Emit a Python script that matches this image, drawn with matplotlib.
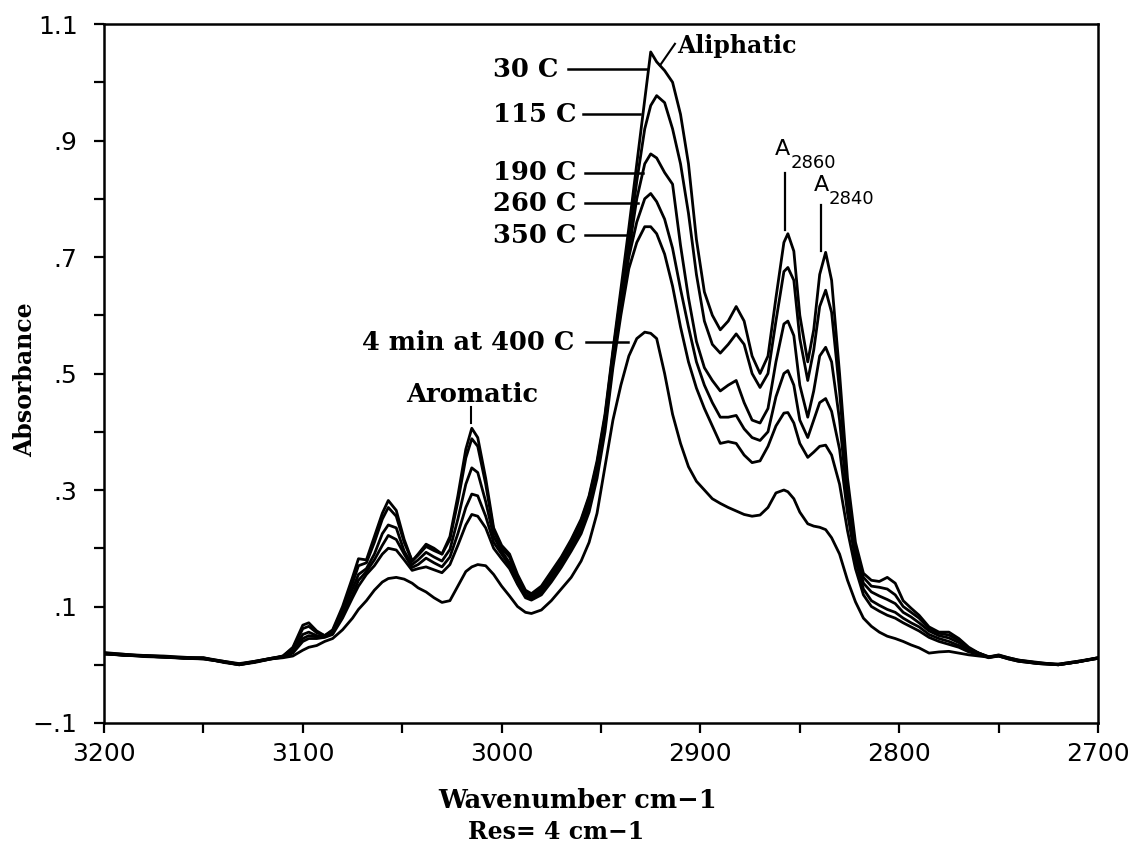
import matplotlib
matplotlib.use("Agg")
import matplotlib.pyplot as plt
from matplotlib.ticker import FixedLocator

# ---------------- data ----------------
wavenumber = [3200, 3190, 3180, 3170, 3160, 3150, 3140, 3132, 3124, 3116,
              3110, 3105, 3100, 3097, 3093, 3089, 3085, 3080, 3075, 3072,
              3068, 3064, 3060, 3057, 3053, 3049, 3045, 3042, 3038, 3034,
              3030, 3026, 3022, 3018, 3015, 3012, 3008, 3004, 3000, 2996,
              2992, 2988, 2985, 2980, 2975, 2970, 2965, 2960, 2956, 2952,
              2948, 2944, 2940, 2936, 2932, 2928, 2925, 2922, 2918, 2914,
              2910, 2906, 2902, 2898, 2894, 2890, 2886, 2882, 2878, 2874,
              2870, 2866, 2862, 2858, 2856, 2853, 2850, 2846, 2843, 2840,
              2837, 2834, 2830, 2826, 2822, 2818, 2814, 2810, 2806, 2802,
              2798, 2794, 2790, 2785, 2780, 2775, 2770, 2765, 2760, 2755,
              2750, 2745, 2740, 2730, 2720, 2710, 2700]

abs_30C = [0.021, 0.018, 0.016, 0.014, 0.012, 0.012, 0.006, 0.001, 0.006, 0.011,
           0.015, 0.030, 0.068, 0.072, 0.058, 0.050, 0.060, 0.100, 0.150, 0.182,
           0.180, 0.220, 0.260, 0.282, 0.265, 0.215, 0.178, 0.190, 0.207, 0.200,
           0.190, 0.220, 0.290, 0.370, 0.406, 0.390, 0.320, 0.235, 0.205, 0.190,
           0.155, 0.128, 0.122, 0.135, 0.160, 0.185, 0.215, 0.250, 0.290, 0.350,
           0.430, 0.540, 0.645, 0.750, 0.860, 0.970, 1.052, 1.035, 1.020, 1.000,
           0.945, 0.860, 0.730, 0.640, 0.600, 0.575, 0.590, 0.615, 0.590, 0.530,
           0.500, 0.530, 0.630, 0.725, 0.740, 0.710, 0.600, 0.520, 0.575, 0.670,
           0.708, 0.660, 0.500, 0.320, 0.210, 0.157, 0.145, 0.143, 0.150, 0.140,
           0.110, 0.097, 0.085, 0.065, 0.056, 0.056, 0.045, 0.030, 0.020, 0.013,
           0.017, 0.012, 0.008, 0.003, 0.000, 0.005, 0.012]

abs_115C = [0.019, 0.017, 0.015, 0.013, 0.011, 0.010, 0.005, 0.000, 0.005, 0.010,
            0.015, 0.028, 0.062, 0.066, 0.055, 0.050, 0.058, 0.095, 0.140, 0.170,
            0.175, 0.210, 0.250, 0.270, 0.255, 0.210, 0.178, 0.188, 0.203, 0.196,
            0.190, 0.215, 0.280, 0.355, 0.388, 0.375, 0.310, 0.230, 0.200, 0.185,
            0.150, 0.125, 0.120, 0.132, 0.157, 0.182, 0.212, 0.247, 0.287, 0.345,
            0.425, 0.535, 0.635, 0.725, 0.830, 0.920, 0.960, 0.977, 0.965, 0.920,
            0.860, 0.775, 0.670, 0.590, 0.550, 0.535, 0.550, 0.568, 0.550, 0.500,
            0.476, 0.500, 0.590, 0.675, 0.682, 0.660, 0.560, 0.488, 0.540, 0.615,
            0.643, 0.605, 0.470, 0.300, 0.200, 0.150, 0.135, 0.133, 0.130, 0.120,
            0.100, 0.090, 0.080, 0.062, 0.054, 0.051, 0.042, 0.028, 0.020, 0.013,
            0.016, 0.011, 0.007, 0.002, 0.001, 0.006, 0.011]

abs_190C = [0.020, 0.016, 0.016, 0.015, 0.013, 0.011, 0.006, 0.002, 0.006, 0.011,
            0.014, 0.025, 0.052, 0.056, 0.050, 0.049, 0.056, 0.090, 0.130, 0.155,
            0.165, 0.190, 0.225, 0.240, 0.235, 0.195, 0.172, 0.180, 0.193, 0.185,
            0.178, 0.198, 0.250, 0.310, 0.338, 0.330, 0.280, 0.220, 0.195, 0.175,
            0.145, 0.120, 0.117, 0.128, 0.152, 0.177, 0.207, 0.240, 0.280, 0.340,
            0.420, 0.530, 0.625, 0.710, 0.800, 0.860, 0.877, 0.870, 0.845, 0.825,
            0.720, 0.630, 0.555, 0.510, 0.488, 0.470, 0.480, 0.488, 0.450, 0.420,
            0.415, 0.440, 0.520, 0.585, 0.590, 0.565, 0.480, 0.425, 0.470, 0.530,
            0.545, 0.520, 0.420, 0.280, 0.190, 0.140, 0.125, 0.118, 0.112, 0.105,
            0.090, 0.082, 0.072, 0.058, 0.050, 0.046, 0.038, 0.026, 0.020, 0.014,
            0.016, 0.012, 0.008, 0.004, 0.000, 0.005, 0.012]

abs_260C = [0.018, 0.017, 0.014, 0.013, 0.012, 0.012, 0.004, 0.000, 0.004, 0.010,
            0.013, 0.022, 0.045, 0.050, 0.048, 0.048, 0.054, 0.085, 0.120, 0.145,
            0.160, 0.180, 0.205, 0.222, 0.215, 0.190, 0.167, 0.172, 0.183, 0.175,
            0.168, 0.185, 0.225, 0.270, 0.293, 0.290, 0.255, 0.210, 0.190, 0.170,
            0.140, 0.118, 0.113, 0.124, 0.147, 0.172, 0.200, 0.232, 0.270, 0.330,
            0.410, 0.520, 0.615, 0.700, 0.760, 0.800, 0.809, 0.795, 0.765, 0.715,
            0.645, 0.580, 0.520, 0.480, 0.450, 0.425, 0.425, 0.428, 0.405, 0.390,
            0.385, 0.400, 0.460, 0.500, 0.505, 0.480, 0.420, 0.390, 0.420, 0.450,
            0.457, 0.435, 0.370, 0.260, 0.180, 0.130, 0.110, 0.102, 0.095, 0.090,
            0.080, 0.072, 0.065, 0.052, 0.045, 0.040, 0.033, 0.024, 0.018, 0.013,
            0.015, 0.011, 0.007, 0.003, 0.001, 0.006, 0.012]

abs_350C = [0.020, 0.018, 0.015, 0.014, 0.011, 0.011, 0.005, 0.001, 0.005, 0.011,
            0.013, 0.020, 0.040, 0.045, 0.045, 0.047, 0.052, 0.080, 0.115, 0.135,
            0.155, 0.170, 0.190, 0.200, 0.197, 0.180, 0.162, 0.165, 0.168, 0.163,
            0.158, 0.172, 0.205, 0.240, 0.258, 0.255, 0.235, 0.200, 0.182, 0.165,
            0.138, 0.115, 0.111, 0.120, 0.142, 0.167, 0.195, 0.225, 0.262, 0.320,
            0.400, 0.510, 0.600, 0.680, 0.725, 0.752, 0.752, 0.740, 0.705, 0.650,
            0.580, 0.520, 0.475, 0.440, 0.410, 0.380, 0.383, 0.380, 0.360, 0.347,
            0.350, 0.375, 0.410, 0.432, 0.433, 0.415, 0.380, 0.356, 0.365, 0.375,
            0.377, 0.360, 0.310, 0.230, 0.165, 0.120, 0.100, 0.092, 0.085, 0.080,
            0.072, 0.065, 0.058, 0.047, 0.040, 0.035, 0.030, 0.022, 0.018, 0.012,
            0.015, 0.010, 0.006, 0.002, 0.000, 0.005, 0.011]

abs_400C = [0.019, 0.016, 0.015, 0.013, 0.012, 0.010, 0.005, 0.000, 0.005, 0.010,
            0.012, 0.015, 0.025, 0.030, 0.033, 0.040, 0.045, 0.060, 0.080, 0.095,
            0.110, 0.128, 0.142, 0.148, 0.150, 0.147, 0.140, 0.132, 0.125, 0.115,
            0.107, 0.110, 0.135, 0.160, 0.168, 0.172, 0.170, 0.155, 0.135, 0.118,
            0.100, 0.090, 0.088, 0.094, 0.110, 0.130, 0.150, 0.178, 0.210, 0.260,
            0.340, 0.420, 0.480, 0.530, 0.560, 0.571, 0.569, 0.560, 0.500, 0.430,
            0.380, 0.340, 0.315, 0.300, 0.285, 0.277, 0.270, 0.264, 0.258, 0.255,
            0.257, 0.270, 0.295, 0.300, 0.297, 0.285, 0.262, 0.242, 0.238, 0.236,
            0.232, 0.218, 0.190, 0.145, 0.108, 0.080, 0.066, 0.056, 0.049, 0.045,
            0.040, 0.034, 0.029, 0.020, 0.022, 0.023, 0.020, 0.017, 0.015, 0.013,
            0.015, 0.010, 0.006, 0.002, 0.000, 0.005, 0.011]

series = [abs_30C, abs_115C, abs_190C, abs_260C, abs_350C, abs_400C]
for s in series:
    assert len(s) == len(wavenumber)

x_major = [3200, 3100, 3000, 2900, 2800, 2700]
x_minor = [3150, 3050, 2950, 2850, 2750]
y_major = [-0.1, 0.1, 0.3, 0.5, 0.7, 0.9, 1.1]
y_major_labels = ['\u2212.1', '.1', '.3', '.5', '.7', '.9', '1.1']
y_minor = [0.0, 0.2, 0.4, 0.6, 0.8, 1.0]

# ---------------- figure ----------------
fig = plt.figure(figsize=(11.34, 8.44), dpi=100)
ax = fig.add_axes([104 / 1134, 121 / 844, 994 / 1134, 699 / 844])

for s in series:
    ax.plot(wavenumber, s, color='black', lw=2.0, solid_joinstyle='round')

ax.set_xlim(3200, 2700)
ax.set_ylim(-0.1, 1.1)

for sp in ax.spines.values():
    sp.set_linewidth(1.8)

ax.xaxis.set_major_locator(FixedLocator(x_major))
ax.xaxis.set_minor_locator(FixedLocator(x_minor))
ax.yaxis.set_major_locator(FixedLocator(y_major))
ax.yaxis.set_minor_locator(FixedLocator(y_minor))
ax.set_yticklabels(y_major_labels)
ax.tick_params(axis='both', which='both', direction='out', length=7, width=1.6,
               labelsize=18)
ax.tick_params(axis='x', which='major', pad=7)
ax.tick_params(axis='y', which='major', pad=12)
for lab in ax.get_xticklabels() + ax.get_yticklabels():
    lab.set_family('DejaVu Sans')

serif = dict(family='DejaVu Serif', fontweight='bold', color='black')

fig.text(25 / 1134, 1 - 380 / 844, 'Absorbance', rotation=90, va='center',
         ha='center', fontsize=17, **serif)
fig.text(578 / 1134, 1 - 800 / 844, 'Wavenumber cm\u22121', ha='center',
         va='center', fontsize=18.5, **serif)
fig.text(556 / 1134, 1 - 832 / 844, 'Res= 4 cm\u22121', ha='center',
         va='center', fontsize=17, **serif)

# ---------------- labels with leader lines ----------------
lbl_size = 18.5
labels = [('30 C', 1.022, 2966.5, 2927.0),
          ('115 C', 0.945, 2959.0, 2930.4),
          ('190 C', 0.845, 2958.0, 2928.9),
          ('260 C', 0.792, 2958.0, 2931.4),
          ('350 C', 0.737, 2958.0, 2933.9)]
for txt, yv, x0, x1 in labels:
    ax.text(3004.5, yv, txt, ha='left', va='center', fontsize=lbl_size, **serif)
    ax.plot([x0, x1], [yv, yv], color='black', lw=1.8)

ax.text(2963.5, 0.5535, '4 min at 400 C', ha='right', va='center',
        fontsize=lbl_size, **serif)
ax.plot([2957.5, 2936.4], [0.5535, 0.5535], color='black', lw=1.8)

ax.text(2911.5, 1.062, 'Aliphatic', ha='left', va='center',
        fontsize=17, **serif)
ax.plot([2920.3, 2912.8], [1.029, 1.066], color='black', lw=1.5)

ax.text(3014.9, 0.464, 'Aromatic', ha='center', va='center',
        fontsize=lbl_size, **serif)
ax.plot([3015.4, 3015.4], [0.442, 0.415], color='black', lw=1.5)

sans = dict(family='DejaVu Sans', color='black')
# A2860
ax.text(2858.5, 0.885, 'A', ha='center', va='center', fontsize=16, **sans)
ax.text(2854.6, 0.862, '2860', ha='left', va='center', fontsize=13, **sans)
ax.plot([2857.4, 2857.4], [0.845, 0.746], color='black', lw=1.6)
# A2840
ax.text(2839.3, 0.823, 'A', ha='center', va='center', fontsize=16, **sans)
ax.text(2835.4, 0.800, '2840', ha='left', va='center', fontsize=13, **sans)
ax.plot([2839.3, 2839.3], [0.790, 0.711], color='black', lw=1.6)

fig.savefig('out.png', dpi=100)
